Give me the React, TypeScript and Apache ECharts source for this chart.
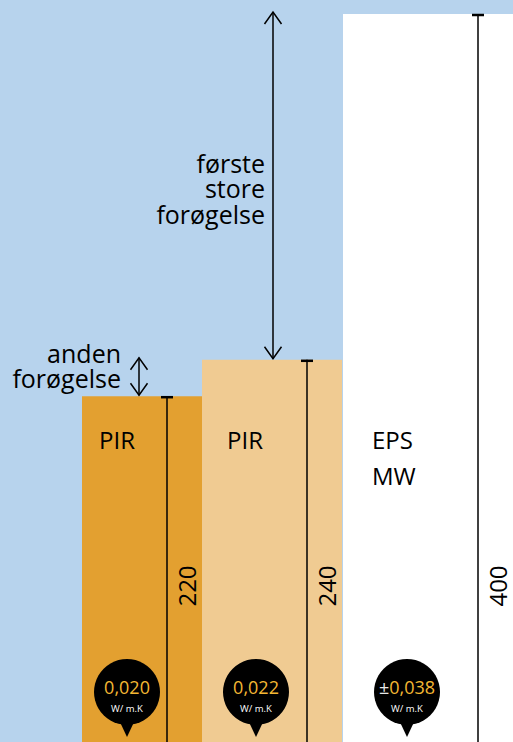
import React, { useEffect, useRef } from "react";
import * as echarts from "echarts";

// ---- data ----
const materials = ["PIR", "PIR", "EPS\nMW"];
const barHeights = [190, 210, 400]; // drawn heights (top bar = 400)
const thicknessLabels = ["220", "240", "400"];
const lambdaValues = ["0,020", "0,022", "±0,038"];
const lambdaUnit = "W/ m.K";
const increaseLabels = ["anden\nforøgelse", "første\nstore\nforøgelse"];

// ---- layout (pixel units of the hidden x axis) ----
const BAR_X = [
  [82, 202],
  [202, 342],
  [343, 513],
];
const BAR_COLORS = ["#e3a030", "#f0cb92", "#ffffff"];
const DIM_X = [167, 307, 478];
const DIM_LABEL_X = [186, 326, 497];
const NAME_X = [99, 227, 372];
const PIN_X = [127, 256, 407];
const ARROW_X = [139, 273];
const ARROW_TEXT_X = [121, 265];
const FONT = "'Open Sans', sans-serif";
const INK = "#000000";

export default function App() {
  const ref = useRef<HTMLDivElement>(null);

  useEffect(() => {
    if (!ref.current) return;
    const chart = echarts.init(ref.current, undefined, { renderer: "svg" });

    const barItem = (params: any, api: any) => {
      const i = api.value(0);
      const h = api.value(1);
      const tl = api.coord([BAR_X[i][0], h]);
      const br = api.coord([BAR_X[i][1], 0]);
      const dimTop = api.coord([DIM_X[i], h]);
      const bottom = br[1];
      const pinX = api.coord([PIN_X[i], 0])[0];
      const pinCy = bottom - 50;
      const children: any[] = [
        {
          type: "rect",
          shape: { x: tl[0], y: tl[1], width: br[0] - tl[0], height: br[1] - tl[1] },
          style: { fill: BAR_COLORS[i] },
        },
        {
          type: "line",
          shape: { x1: dimTop[0], y1: dimTop[1], x2: dimTop[0], y2: bottom },
          style: { stroke: INK, lineWidth: 1.5 },
        },
        {
          type: "line",
          shape: { x1: dimTop[0] - 6, y1: dimTop[1] + 1, x2: dimTop[0] + 6, y2: dimTop[1] + 1 },
          style: { stroke: INK, lineWidth: 2.5 },
        },
        {
          type: "text",
          x: api.coord([DIM_LABEL_X[i], 0])[0],
          y: 586,
          rotation: Math.PI / 2,
          style: {
            text: thicknessLabels[i],
            fontFamily: FONT,
            fontSize: 24,
            fill: INK,
            align: "center",
            verticalAlign: "middle",
          },
        },
        {
          type: "text",
          x: api.coord([NAME_X[i], 0])[0],
          y: 421,
          style: {
            text: materials[i],
            fontFamily: FONT,
            fontSize: 24,
            lineHeight: 36,
            fill: INK,
            align: "left",
            verticalAlign: "top",
          },
        },
        {
          type: "polygon",
          shape: {
            points: [
              [pinX - 8, pinCy + 28],
              [pinX + 8, pinCy + 28],
              [pinX, pinCy + 45],
            ],
          },
          style: { fill: "#000" },
        },
        {
          type: "circle",
          shape: { cx: pinX, cy: pinCy, r: 33 },
          style: { fill: "#000" },
        },
        {
          type: "text",
          x: pinX,
          y: pinCy - 5,
          style: {
            text: lambdaValues[i].startsWith("±")
              ? "{w|±}{o|" + lambdaValues[i].slice(1) + "}"
              : "{o|" + lambdaValues[i] + "}",
            rich: {
              o: { fontFamily: FONT, fontSize: 18, fill: "#f4b733" },
              w: { fontFamily: FONT, fontSize: 18, fill: "#e8e8e8" },
            },
            align: "center",
            verticalAlign: "middle",
          },
        },
        {
          type: "text",
          x: pinX,
          y: pinCy + 16,
          style: {
            text: lambdaUnit,
            fontFamily: FONT,
            fontSize: 9.5,
            fill: "#ffffff",
            align: "center",
            verticalAlign: "middle",
          },
        },
      ];
      return { type: "group", children };
    };

    const arrowData = [
      [0, barHeights[1], barHeights[0]],
      [1, barHeights[2], barHeights[1]],
    ];

    const arrowItem = (params: any, api: any) => {
      const i = api.value(0);
      const top = api.coord([ARROW_X[i], api.value(1)]);
      const bot = api.coord([ARROW_X[i], api.value(2)]);
      const y1 = top[1] - 2;
      const y2 = bot[1] - 1;
      const x = top[0];
      const hw = 8.5;
      const hl = 12;
      const lh = i === 0 ? 24.5 : 25.5;
      const firstBaseline = i === 0 ? 363 : 172;
      return {
        type: "group",
        children: [
          {
            type: "line",
            shape: { x1: x, y1: y1, x2: x, y2: y2 },
            style: { stroke: INK, lineWidth: 1.5 },
          },
          {
            type: "polyline",
            shape: { points: [[x - hw, y1 + hl], [x, y1], [x + hw, y1 + hl]] },
            style: { stroke: INK, lineWidth: 1.5, fill: null },
          },
          {
            type: "polyline",
            shape: { points: [[x - hw, y2 - hl], [x, y2], [x + hw, y2 - hl]] },
            style: { stroke: INK, lineWidth: 1.5, fill: null },
          },
          {
            type: "text",
            x: api.coord([ARROW_TEXT_X[i], 0])[0],
            y: firstBaseline - 22,
            style: {
              text: increaseLabels[i],
              fontFamily: FONT,
              fontSize: 25,
              lineHeight: lh,
              fill: INK,
              align: "right",
              verticalAlign: "top",
            },
          },
        ],
      };
    };

    chart.setOption({
      animation: false,
      backgroundColor: "#b7d3ed",
      grid: { left: 0, right: 0, top: 14, bottom: 0 },
      xAxis: { type: "value", min: 0, max: 513, show: false },
      yAxis: { type: "value", min: 0, max: 400, show: false },
      series: [
        {
          type: "custom",
          renderItem: barItem,
          data: barHeights.map((h, i) => [i, h]),
          clip: false,
          silent: true,
        },
        {
          type: "custom",
          renderItem: arrowItem,
          data: arrowData,
          clip: false,
          silent: true,
        },
      ],
    });

    return () => chart.dispose();
  }, []);

  return (
    <div
      ref={ref}
      style={{ position: "absolute", left: 0, top: 0, width: 513, height: 742 }}
    />
  );
}
